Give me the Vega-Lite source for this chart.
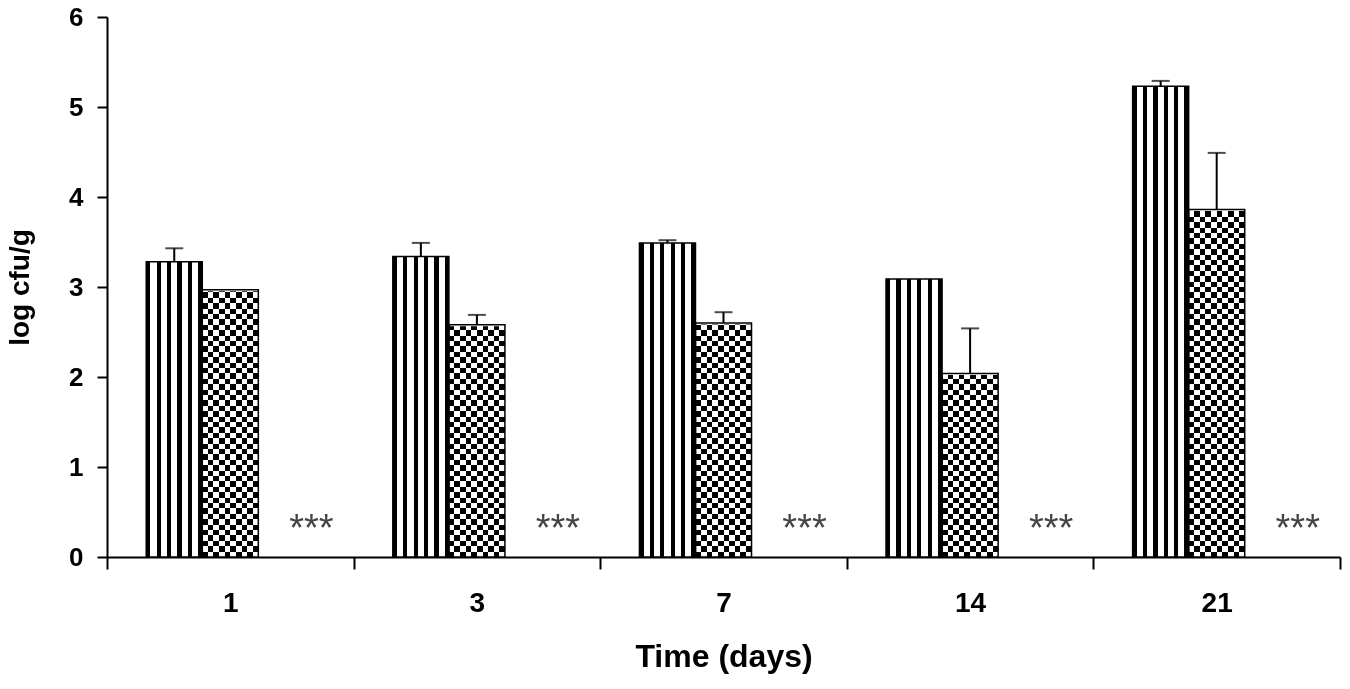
{
  "$schema": "https://vega.github.io/schema/vega-lite/v6.json",
  "width": 1233,
  "height": 540,
  "autosize": "none",
  "padding": {"left": 107, "top": 17, "right": 10, "bottom": 132},
  "background": "white",
  "config": {
    "view": {"stroke": null},
    "font": "Liberation Sans",
    "axis": {"domainColor": "black", "domainWidth": 2, "tickColor": "black", "tickWidth": 2, "labelColor": "black", "titleColor": "black", "labelFontWeight": "bold", "titleFontWeight": "bold", "grid": false}
  },
  "data": {
    "values": [
      {"day": "1", "group": "A", "value": 3.28, "upper": 3.43},
      {"day": "1", "group": "B", "value": 2.97, "upper": null},
      {"day": "1", "group": "C", "value": 0, "label": "***"},
      {"day": "3", "group": "A", "value": 3.34, "upper": 3.49},
      {"day": "3", "group": "B", "value": 2.58, "upper": 2.69},
      {"day": "3", "group": "C", "value": 0, "label": "***"},
      {"day": "7", "group": "A", "value": 3.49, "upper": 3.52},
      {"day": "7", "group": "B", "value": 2.6, "upper": 2.72},
      {"day": "7", "group": "C", "value": 0, "label": "***"},
      {"day": "14", "group": "A", "value": 3.09, "upper": null},
      {"day": "14", "group": "B", "value": 2.04, "upper": 2.54},
      {"day": "14", "group": "C", "value": 0, "label": "***"},
      {"day": "21", "group": "A", "value": 5.23, "upper": 5.29},
      {"day": "21", "group": "B", "value": 3.86, "upper": 4.49},
      {"day": "21", "group": "C", "value": 0, "label": "***"}
    ]
  },
  "encoding": {
    "x": {
      "field": "day", "type": "nominal", "sort": ["1", "3", "7", "14", "21"],
      "scale": {"paddingInner": 0, "paddingOuter": 0},
      "axis": {"title": "Time (days)", "labelAngle": 0, "tickBand": "extent", "tickSize": 12, "labelFontSize": 28, "labelPadding": 20, "titleFontSize": 32, "titlePadding": 24}
    },
    "xOffset": {"field": "group", "type": "nominal", "scale": {"domain": ["A", "B", "C"], "paddingInner": 0, "paddingOuter": 0.7}},
    "y": {
      "field": "value", "type": "quantitative", "title": "log cfu/g",
      "scale": {"domain": [0, 6], "nice": false},
      "axis": {"values": [0, 1, 2, 3, 4, 5, 6], "tickSize": 10, "labelFontSize": 26, "labelPadding": 14, "titleFontSize": 28, "titlePadding": 34}
    }
  },
  "layer": [
    {
      "transform": [{"filter": "datum.group === 'B'"}],
      "mark": {
        "type": "bar",
        "fill": {"gradient": "linear", "x1": 0, "y1": 0, "x2": 1, "y2": 0, "stops": [
          {"offset": 0, "color": "#000"}, {"offset": 0.1, "color": "#000"},
          {"offset": 0.1, "color": "#fff"}, {"offset": 0.2, "color": "#fff"},
          {"offset": 0.2, "color": "#000"}, {"offset": 0.3, "color": "#000"},
          {"offset": 0.3, "color": "#fff"}, {"offset": 0.4, "color": "#fff"},
          {"offset": 0.4, "color": "#000"}, {"offset": 0.5, "color": "#000"},
          {"offset": 0.5, "color": "#fff"}, {"offset": 0.6, "color": "#fff"},
          {"offset": 0.6, "color": "#000"}, {"offset": 0.7, "color": "#000"},
          {"offset": 0.7, "color": "#fff"}, {"offset": 0.8, "color": "#fff"},
          {"offset": 0.8, "color": "#000"}, {"offset": 0.9, "color": "#000"},
          {"offset": 0.9, "color": "#fff"}, {"offset": 1, "color": "#fff"}
        ]}
      }
    },
    {
      "transform": [{"filter": "datum.group === 'B'"}],
      "mark": {
        "type": "bar", "blend": "difference",
        "fill": {"gradient": "linear", "x1": 0, "y1": 0, "x2": 0, "y2": 1, "stops": [
          {"offset": 0, "color": "#fff"}, {"offset": 0.01, "color": "#fff"}, {"offset": 0.01, "color": "#000"}, {"offset": 0.02, "color": "#000"},
          {"offset": 0.02, "color": "#fff"}, {"offset": 0.03, "color": "#fff"}, {"offset": 0.03, "color": "#000"}, {"offset": 0.04, "color": "#000"},
          {"offset": 0.04, "color": "#fff"}, {"offset": 0.05, "color": "#fff"}, {"offset": 0.05, "color": "#000"}, {"offset": 0.06, "color": "#000"},
          {"offset": 0.06, "color": "#fff"}, {"offset": 0.07, "color": "#fff"}, {"offset": 0.07, "color": "#000"}, {"offset": 0.08, "color": "#000"},
          {"offset": 0.08, "color": "#fff"}, {"offset": 0.09, "color": "#fff"}, {"offset": 0.09, "color": "#000"}, {"offset": 0.10, "color": "#000"},
          {"offset": 0.10, "color": "#fff"}, {"offset": 0.11, "color": "#fff"}, {"offset": 0.11, "color": "#000"}, {"offset": 0.12, "color": "#000"},
          {"offset": 0.12, "color": "#fff"}, {"offset": 0.13, "color": "#fff"}, {"offset": 0.13, "color": "#000"}, {"offset": 0.14, "color": "#000"},
          {"offset": 0.14, "color": "#fff"}, {"offset": 0.15, "color": "#fff"}, {"offset": 0.15, "color": "#000"}, {"offset": 0.16, "color": "#000"},
          {"offset": 0.16, "color": "#fff"}, {"offset": 0.17, "color": "#fff"}, {"offset": 0.17, "color": "#000"}, {"offset": 0.18, "color": "#000"},
          {"offset": 0.18, "color": "#fff"}, {"offset": 0.19, "color": "#fff"}, {"offset": 0.19, "color": "#000"}, {"offset": 0.20, "color": "#000"},
          {"offset": 0.20, "color": "#fff"}, {"offset": 0.21, "color": "#fff"}, {"offset": 0.21, "color": "#000"}, {"offset": 0.22, "color": "#000"},
          {"offset": 0.22, "color": "#fff"}, {"offset": 0.23, "color": "#fff"}, {"offset": 0.23, "color": "#000"}, {"offset": 0.24, "color": "#000"},
          {"offset": 0.24, "color": "#fff"}, {"offset": 0.25, "color": "#fff"}, {"offset": 0.25, "color": "#000"}, {"offset": 0.26, "color": "#000"},
          {"offset": 0.26, "color": "#fff"}, {"offset": 0.27, "color": "#fff"}, {"offset": 0.27, "color": "#000"}, {"offset": 0.28, "color": "#000"},
          {"offset": 0.28, "color": "#fff"}, {"offset": 0.29, "color": "#fff"}, {"offset": 0.29, "color": "#000"}, {"offset": 0.30, "color": "#000"},
          {"offset": 0.30, "color": "#fff"}, {"offset": 0.31, "color": "#fff"}, {"offset": 0.31, "color": "#000"}, {"offset": 0.32, "color": "#000"},
          {"offset": 0.32, "color": "#fff"}, {"offset": 0.33, "color": "#fff"}, {"offset": 0.33, "color": "#000"}, {"offset": 0.34, "color": "#000"},
          {"offset": 0.34, "color": "#fff"}, {"offset": 0.35, "color": "#fff"}, {"offset": 0.35, "color": "#000"}, {"offset": 0.36, "color": "#000"},
          {"offset": 0.36, "color": "#fff"}, {"offset": 0.37, "color": "#fff"}, {"offset": 0.37, "color": "#000"}, {"offset": 0.38, "color": "#000"},
          {"offset": 0.38, "color": "#fff"}, {"offset": 0.39, "color": "#fff"}, {"offset": 0.39, "color": "#000"}, {"offset": 0.40, "color": "#000"},
          {"offset": 0.40, "color": "#fff"}, {"offset": 0.41, "color": "#fff"}, {"offset": 0.41, "color": "#000"}, {"offset": 0.42, "color": "#000"},
          {"offset": 0.42, "color": "#fff"}, {"offset": 0.43, "color": "#fff"}, {"offset": 0.43, "color": "#000"}, {"offset": 0.44, "color": "#000"},
          {"offset": 0.44, "color": "#fff"}, {"offset": 0.45, "color": "#fff"}, {"offset": 0.45, "color": "#000"}, {"offset": 0.46, "color": "#000"},
          {"offset": 0.46, "color": "#fff"}, {"offset": 0.47, "color": "#fff"}, {"offset": 0.47, "color": "#000"}, {"offset": 0.48, "color": "#000"},
          {"offset": 0.48, "color": "#fff"}, {"offset": 0.49, "color": "#fff"}, {"offset": 0.49, "color": "#000"}, {"offset": 0.50, "color": "#000"},
          {"offset": 0.50, "color": "#fff"}, {"offset": 0.51, "color": "#fff"}, {"offset": 0.51, "color": "#000"}, {"offset": 0.52, "color": "#000"},
          {"offset": 0.52, "color": "#fff"}, {"offset": 0.53, "color": "#fff"}, {"offset": 0.53, "color": "#000"}, {"offset": 0.54, "color": "#000"},
          {"offset": 0.54, "color": "#fff"}, {"offset": 0.55, "color": "#fff"}, {"offset": 0.55, "color": "#000"}, {"offset": 0.56, "color": "#000"},
          {"offset": 0.56, "color": "#fff"}, {"offset": 0.57, "color": "#fff"}, {"offset": 0.57, "color": "#000"}, {"offset": 0.58, "color": "#000"},
          {"offset": 0.58, "color": "#fff"}, {"offset": 0.59, "color": "#fff"}, {"offset": 0.59, "color": "#000"}, {"offset": 0.60, "color": "#000"},
          {"offset": 0.60, "color": "#fff"}, {"offset": 0.61, "color": "#fff"}, {"offset": 0.61, "color": "#000"}, {"offset": 0.62, "color": "#000"},
          {"offset": 0.62, "color": "#fff"}, {"offset": 0.63, "color": "#fff"}, {"offset": 0.63, "color": "#000"}, {"offset": 0.64, "color": "#000"},
          {"offset": 0.64, "color": "#fff"}, {"offset": 0.65, "color": "#fff"}, {"offset": 0.65, "color": "#000"}, {"offset": 0.66, "color": "#000"},
          {"offset": 0.66, "color": "#fff"}, {"offset": 0.67, "color": "#fff"}, {"offset": 0.67, "color": "#000"}, {"offset": 0.68, "color": "#000"},
          {"offset": 0.68, "color": "#fff"}, {"offset": 0.69, "color": "#fff"}, {"offset": 0.69, "color": "#000"}, {"offset": 0.70, "color": "#000"},
          {"offset": 0.70, "color": "#fff"}, {"offset": 0.71, "color": "#fff"}, {"offset": 0.71, "color": "#000"}, {"offset": 0.72, "color": "#000"},
          {"offset": 0.72, "color": "#fff"}, {"offset": 0.73, "color": "#fff"}, {"offset": 0.73, "color": "#000"}, {"offset": 0.74, "color": "#000"},
          {"offset": 0.74, "color": "#fff"}, {"offset": 0.75, "color": "#fff"}, {"offset": 0.75, "color": "#000"}, {"offset": 0.76, "color": "#000"},
          {"offset": 0.76, "color": "#fff"}, {"offset": 0.77, "color": "#fff"}, {"offset": 0.77, "color": "#000"}, {"offset": 0.78, "color": "#000"},
          {"offset": 0.78, "color": "#fff"}, {"offset": 0.79, "color": "#fff"}, {"offset": 0.79, "color": "#000"}, {"offset": 0.80, "color": "#000"},
          {"offset": 0.80, "color": "#fff"}, {"offset": 0.81, "color": "#fff"}, {"offset": 0.81, "color": "#000"}, {"offset": 0.82, "color": "#000"},
          {"offset": 0.82, "color": "#fff"}, {"offset": 0.83, "color": "#fff"}, {"offset": 0.83, "color": "#000"}, {"offset": 0.84, "color": "#000"},
          {"offset": 0.84, "color": "#fff"}, {"offset": 0.85, "color": "#fff"}, {"offset": 0.85, "color": "#000"}, {"offset": 0.86, "color": "#000"},
          {"offset": 0.86, "color": "#fff"}, {"offset": 0.87, "color": "#fff"}, {"offset": 0.87, "color": "#000"}, {"offset": 0.88, "color": "#000"},
          {"offset": 0.88, "color": "#fff"}, {"offset": 0.89, "color": "#fff"}, {"offset": 0.89, "color": "#000"}, {"offset": 0.90, "color": "#000"},
          {"offset": 0.90, "color": "#fff"}, {"offset": 0.91, "color": "#fff"}, {"offset": 0.91, "color": "#000"}, {"offset": 0.92, "color": "#000"},
          {"offset": 0.92, "color": "#fff"}, {"offset": 0.93, "color": "#fff"}, {"offset": 0.93, "color": "#000"}, {"offset": 0.94, "color": "#000"},
          {"offset": 0.94, "color": "#fff"}, {"offset": 0.95, "color": "#fff"}, {"offset": 0.95, "color": "#000"}, {"offset": 0.96, "color": "#000"},
          {"offset": 0.96, "color": "#fff"}, {"offset": 0.97, "color": "#fff"}, {"offset": 0.97, "color": "#000"}, {"offset": 0.98, "color": "#000"},
          {"offset": 0.98, "color": "#fff"}, {"offset": 0.99, "color": "#fff"}, {"offset": 0.99, "color": "#000"}, {"offset": 1, "color": "#000"}
        ]}
      },
      "encoding": {
        "y": {"datum": 6, "type": "quantitative", "title": "log cfu/g"},
        "y2": {"datum": 0}
      }
    },
    {
      "transform": [{"filter": "datum.group === 'B'"}],
      "mark": {"type": "bar", "fill": "white", "stroke": "white", "strokeWidth": 3},
      "encoding": {
        "y": {"datum": 6, "type": "quantitative", "title": "log cfu/g"},
        "y2": {"field": "value"}
      }
    },
    {
      "transform": [{"filter": "datum.group === 'B'"}],
      "mark": {"type": "bar", "fill": null, "stroke": "black", "strokeWidth": 1.5}
    },
    {
      "transform": [{"filter": "datum.group === 'A'"}],
      "mark": {
        "type": "bar", "stroke": "black", "strokeWidth": 1.5,
        "fill": {"gradient": "linear", "x1": 0, "y1": 0, "x2": 1, "y2": 0, "stops": [
          {"offset": 0, "color": "#000"}, {"offset": 0.075, "color": "#000"},
          {"offset": 0.075, "color": "#fff"}, {"offset": 0.185, "color": "#fff"},
          {"offset": 0.185, "color": "#000"}, {"offset": 0.26, "color": "#000"},
          {"offset": 0.26, "color": "#fff"}, {"offset": 0.37, "color": "#fff"},
          {"offset": 0.37, "color": "#000"}, {"offset": 0.445, "color": "#000"},
          {"offset": 0.445, "color": "#fff"}, {"offset": 0.555, "color": "#fff"},
          {"offset": 0.555, "color": "#000"}, {"offset": 0.63, "color": "#000"},
          {"offset": 0.63, "color": "#fff"}, {"offset": 0.74, "color": "#fff"},
          {"offset": 0.74, "color": "#000"}, {"offset": 0.815, "color": "#000"},
          {"offset": 0.815, "color": "#fff"}, {"offset": 0.925, "color": "#fff"},
          {"offset": 0.925, "color": "#000"}, {"offset": 1, "color": "#000"}
        ]}
      }
    },
    {
      "transform": [{"filter": "datum.upper != null"}],
      "mark": {"type": "rule", "color": "black", "strokeWidth": 2},
      "encoding": {
        "y2": {"field": "upper"}
      }
    },
    {
      "transform": [{"filter": "datum.upper != null"}],
      "mark": {"type": "tick", "color": "black", "size": 18, "thickness": 2, "orient": "horizontal"},
      "encoding": {
        "y": {"field": "upper", "type": "quantitative", "title": "log cfu/g"}
      }
    },
    {
      "transform": [{"filter": "datum.group === 'C'"}],
      "mark": {"type": "text", "font": "Liberation Sans", "fontSize": 38, "color": "#444", "dx": 25, "dy": -27, "baseline": "middle"},
      "encoding": {
        "text": {"field": "label"}
      }
    }
  ]
}
